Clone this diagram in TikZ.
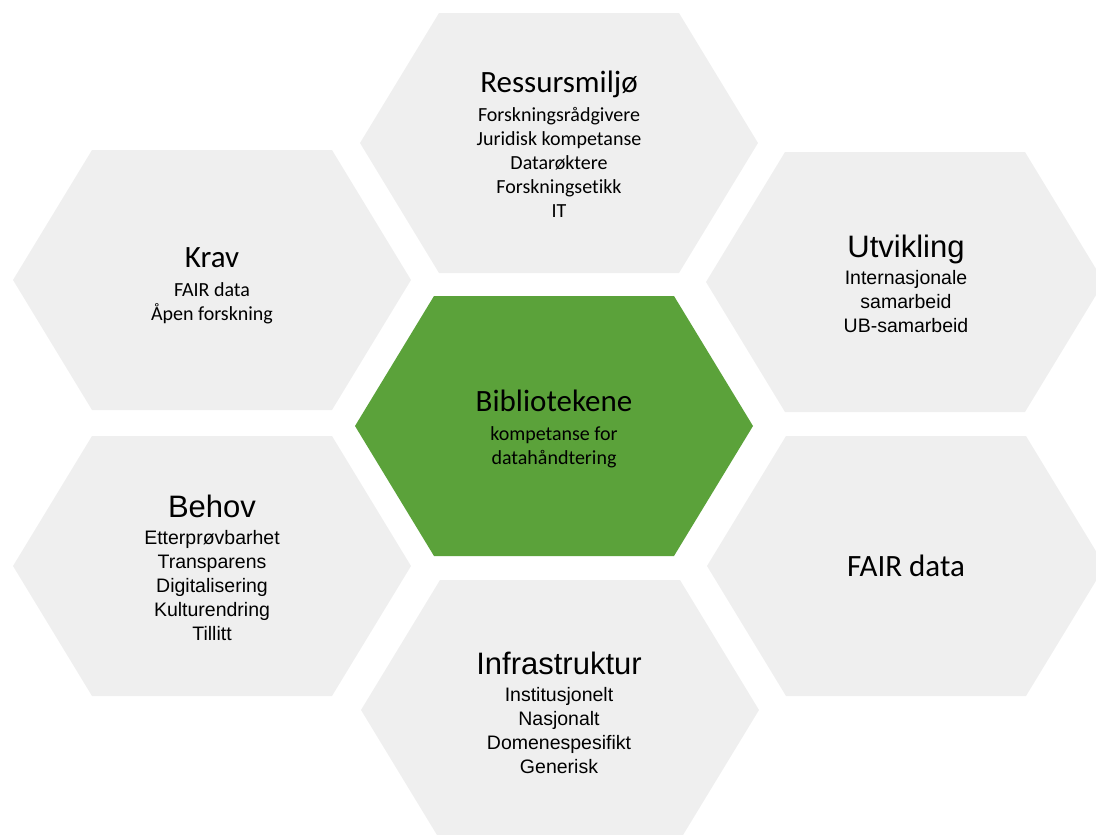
\documentclass[tikz,border=0pt]{standalone}
\usepackage{fontspec}
\setmainfont{Carlito}[Ligatures=NoCommon]
\newfontfamily\arialfam{Liberation Sans}
\definecolor{hexgrey}{RGB}{239,239,239}
\definecolor{hexgreen}{RGB}{91,162,58}
\newcommand\hexhead[1]{{\fontsize{31}{37}\selectfont #1}}
% one stretched hexagon, pointed at left and right, centred at (#2,#3)
\newcommand\hexcell[3]{%
  \fill[#1, shift={(#2,#3)}] (-199,0) -- (-120,-130) -- (120,-130) -- (199,0)
    -- (120,130) -- (-120,130) -- cycle;}
% text blocks are placed by the baseline of their last line
\tikzset{
  greycell/.style={fill=hexgrey},
  greencell/.style={fill=hexgreen},
  calibritext/.style={anchor=base, align=center, inner sep=0pt,
    font=\fontsize{20}{24}\selectfont},
  arialtext/.style={anchor=base, align=center, inner sep=0pt,
    font=\arialfam\fontsize{19.5}{24}\selectfont},
}
\begin{document}
\begin{tikzpicture}[x=1pt, y=-1pt]
  \useasboundingbox (0,0) rectangle (1096,835);
  \clip (0,0) rectangle (1096,835);

  % honeycomb
  \hexcell{greycell}{559}{143}
  \hexcell{greycell}{212}{280}
  \hexcell{greycell}{905}{282}
  \hexcell{greencell}{554}{426}
  \hexcell{greycell}{212}{566}
  \hexcell{greycell}{906}{566}
  \hexcell{greycell}{560}{710}

  % texts
  \node[calibritext] (ressurs) at (559,217)
    {\hexhead{Ressursmiljø}\\[5pt] Forskningsrådgivere\\ Juridisk kompetanse\\
     Datarøktere\\ Forskningsetikk\\ IT};
  \node[calibritext] (krav) at (212,320)
    {\hexhead{Krav}\\[5pt] FAIR data\\ Åpen forskning};
  \node[arialtext] (utvikling) at (906,332)
    {\hexhead{Utvikling}\\[3pt] Internasjonale\\ samarbeid\\ UB-samarbeid};
  \node[calibritext] (bibliotek) at (554,464)
    {\hexhead{Bibliotekene}\\[5pt] kompetanse for\\ datahåndtering};
  \node[arialtext] (behov) at (212,640)
    {\hexhead{Behov}\\[3pt] Etterprøvbarhet\\ Transparens\\ Digitalisering\\
     Kulturendring\\ Tillitt};
  \node[calibritext] (fair) at (906,576) {\hexhead{FAIR data}};
  \node[arialtext] (infra) at (559,773)
    {\hexhead{Infrastruktur}\\[3pt] Institusjonelt\\ Nasjonalt\\
     Domenespesifikt\\ Generisk};
\end{tikzpicture}
\end{document}
